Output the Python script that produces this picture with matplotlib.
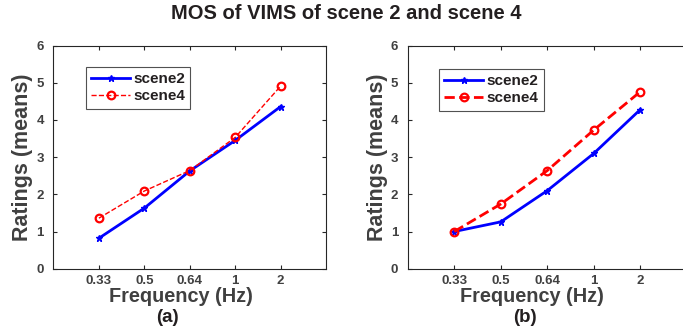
import matplotlib
matplotlib.use("Agg")
import matplotlib.pyplot as plt

plt.rcParams['font.family'] = ['Liberation Sans', 'DejaVu Sans']
plt.rcParams['font.weight'] = 'bold'

freq_labels = ['0.33', '0.5', '0.64', '1', '2']
a_scene2 = [0.82, 1.63, 2.63, 3.45, 4.36]
a_scene4 = [1.36, 2.09, 2.64, 3.53, 4.91]
b_scene2 = [1.00, 1.26, 2.10, 3.10, 4.28]
b_scene4 = [1.00, 1.74, 2.64, 3.73, 4.76]
y_ticks = [0, 1, 2, 3, 4, 5, 6]

fig = plt.figure(figsize=(6.83, 3.33), dpi=100)
fig.text(0.507, 0.958, 'MOS of VIMS of scene 2 and scene 4', ha='center', va='center',
         fontsize=14.5, fontweight='bold', color='#231f20')

axpos = [[0.0783, 0.193, 0.399, 0.670], [0.597, 0.193, 0.4085, 0.670]]
data = [(a_scene2, a_scene4, 2.0, 1.0, '(a)', (0.119, 0.904), 0.466, 0.42),
        (b_scene2, b_scene4, 2.0, 2.0, '(b)', (0.112, 0.896), 0.4455, 0.419)]

grey = '#404040'
for pos, (s2, s4, lw2, lw4, lab, lpos, xlx, subx) in zip(axpos, data):
    ax = fig.add_axes(pos)
    x = list(range(1, len(freq_labels) + 1))
    ax.plot(x, s2, color='#0000ff', linestyle='-', linewidth=lw2, marker='*',
            markersize=5, label='scene2')
    ax.plot(x, s4, color='#ff0000', linestyle='--', linewidth=lw4, marker='o',
            markersize=5.5, markerfacecolor='none', markeredgewidth=1.6, label='scene4')
    ax.set_xlim(0, 6)
    ax.set_ylim(0, 6)
    ax.set_xticks(x)
    ax.set_xticklabels(freq_labels)
    ax.set_yticks(y_ticks)
    ax.tick_params(direction='in', length=3, width=0.8, colors='#262626',
                   labelcolor=grey, labelsize=9.5, top=True, right=True)
    ax.tick_params(axis='x', pad=4.5)
    ax.tick_params(axis='y', pad=7)
    for lbl in ax.get_xticklabels() + ax.get_yticklabels():
        lbl.set_fontweight('bold')
    for sp in ax.spines.values():
        sp.set_color('#262626')
        sp.set_linewidth(0.8)
    ax.set_xlabel('Frequency (Hz)', fontsize=14.3, fontweight='bold', color=grey,
                  va='center')
    ax.xaxis.set_label_coords(xlx, -0.125)
    ax.set_ylabel('Ratings (means)', fontsize=15.5, fontweight='bold', color=grey, labelpad=2)
    ax.text(subx, -0.218, lab, transform=ax.transAxes, ha='center', va='center',
            fontsize=13.5, fontweight='bold', color='#231f20')
    leg = ax.legend(loc='upper left', bbox_to_anchor=lpos, fontsize=11,
                    frameon=True, fancybox=False, handlelength=2.55,
                    borderpad=0.35, labelspacing=0.2, handletextpad=0.2,
                    borderaxespad=0)
    leg.get_frame().set_edgecolor('#262626')
    leg.get_frame().set_linewidth(0.8)
    for t in leg.get_texts():
        t.set_color('#231f20')
        t.set_fontweight('bold')

fig.savefig('out.png', dpi=100)
